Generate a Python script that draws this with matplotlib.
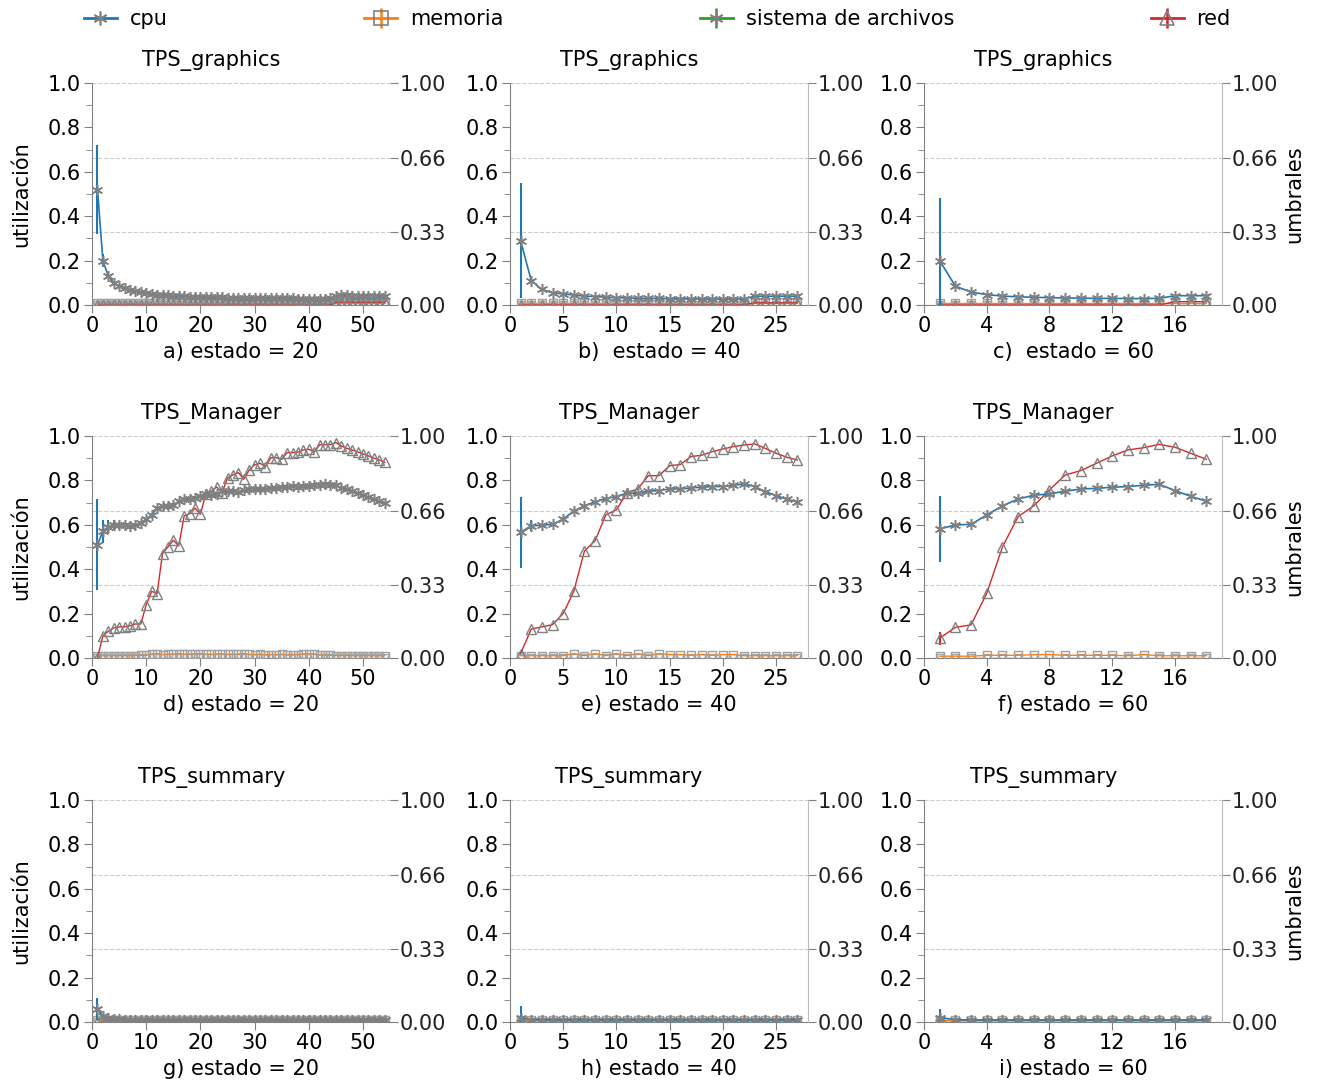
import numpy as np
import matplotlib
matplotlib.use("Agg")
import matplotlib.pyplot as plt
from matplotlib.lines import Line2D
from matplotlib.legend_handler import HandlerTuple

# ---------------------------------------------------------------
# data

labels = ["cpu", "memoria", "sistema de archivos", "red"]
umbrales = [0.0, 0.33, 0.66, 1.0]
estados = [20, 40, 60]
componentes = ["TPS_graphics", "TPS_Manager", "TPS_summary"]

# TPS_graphics
cpu_g20 = [0.52, 0.20, 0.13, 0.10, 0.085, 0.075, 0.068, 0.063, 0.058, 0.054,
           0.050, 0.047, 0.045, 0.043, 0.041, 0.040, 0.039, 0.038, 0.037, 0.036,
           0.035, 0.035, 0.034, 0.034, 0.033, 0.033, 0.032, 0.032, 0.032, 0.031,
           0.031, 0.031, 0.030, 0.030, 0.030, 0.030, 0.030, 0.029, 0.029, 0.029,
           0.029, 0.029, 0.029, 0.030, 0.042, 0.043, 0.043, 0.042, 0.042, 0.042,
           0.042, 0.041, 0.041, 0.041]
cpu_g20_err = [0.20, 0.03]
red_g20 = [0.0, 0.0, 0.0, 0.0, 0.0, 0.0, 0.0, 0.0, 0.0, 0.0,
           0.0, 0.0, 0.0, 0.0, 0.0, 0.0, 0.0, 0.0, 0.0, 0.0,
           0.0, 0.0, 0.0, 0.0, 0.0, 0.0, 0.0, 0.0, 0.0, 0.0,
           0.0, 0.0, 0.0, 0.0, 0.0, 0.0, 0.0, 0.0, 0.0, 0.0,
           0.0, 0.0, 0.0, 0.001, 0.012, 0.013, 0.013, 0.012, 0.012, 0.012,
           0.012, 0.012, 0.012, 0.012]
cpu_g40 = [0.29, 0.11, 0.07, 0.055, 0.050, 0.045, 0.040, 0.038, 0.035, 0.033,
           0.032, 0.030, 0.030, 0.030, 0.028, 0.028, 0.028, 0.027, 0.027, 0.027,
           0.027, 0.027, 0.040, 0.040, 0.040, 0.040, 0.040]
cpu_g40_err = [0.26]
red_g40 = [0.0, 0.0, 0.0, 0.0, 0.0, 0.0, 0.0, 0.0, 0.0, 0.0,
           0.0, 0.0, 0.0, 0.0, 0.0, 0.0, 0.0, 0.0, 0.0, 0.0,
           0.0, 0.001, 0.010, 0.010, 0.010, 0.010, 0.010]
cpu_g60 = [0.20, 0.085, 0.058, 0.047, 0.040, 0.037, 0.035, 0.033, 0.032, 0.031,
           0.030, 0.030, 0.029, 0.029, 0.030, 0.042, 0.042, 0.042]
cpu_g60_err = [0.28]
red_g60 = [0.0, 0.0, 0.0, 0.0, 0.0, 0.0, 0.0, 0.0, 0.0, 0.0,
           0.0, 0.0, 0.0, 0.0, 0.0, 0.015, 0.015, 0.015]

# TPS_Manager
cpu_m20 = [0.51, 0.57, 0.59, 0.60, 0.60, 0.60, 0.595, 0.60, 0.61, 0.625,
           0.645, 0.675, 0.685, 0.685, 0.69, 0.705, 0.715, 0.715, 0.72, 0.73,
           0.74, 0.735, 0.74, 0.75, 0.75, 0.75, 0.748, 0.755, 0.76, 0.763,
           0.76, 0.763, 0.765, 0.766, 0.77, 0.77, 0.773, 0.772, 0.774, 0.775,
           0.78, 0.781, 0.782, 0.781, 0.778, 0.767, 0.76, 0.75, 0.742, 0.733,
           0.724, 0.715, 0.707, 0.698]
cpu_m20_err = [0.205, 0.05, 0.03, 0.02]
red_m20 = [0.0, 0.10, 0.12, 0.135, 0.14, 0.14, 0.145, 0.153, 0.153, 0.24,
           0.30, 0.29, 0.47, 0.50, 0.53, 0.505, 0.64, 0.65, 0.675, 0.647,
           0.74, 0.752, 0.77, 0.745, 0.81, 0.825, 0.835, 0.805, 0.847, 0.87,
           0.877, 0.862, 0.902, 0.902, 0.895, 0.925, 0.925, 0.927, 0.937, 0.94,
           0.928, 0.96, 0.96, 0.961, 0.97, 0.955, 0.944, 0.937, 0.928, 0.919,
           0.91, 0.90, 0.892, 0.881]
mem_m20 = [0.010, 0.010, 0.010, 0.010, 0.010, 0.011, 0.010, 0.011, 0.012, 0.012,
           0.018, 0.020, 0.015, 0.016, 0.018, 0.020, 0.016, 0.018, 0.019, 0.020,
           0.017, 0.016, 0.018, 0.019, 0.016, 0.017, 0.018, 0.020, 0.016, 0.015,
           0.016, 0.014, 0.015, 0.014, 0.016, 0.013, 0.014, 0.015, 0.018, 0.019,
           0.018, 0.013, 0.012, 0.012, 0.011, 0.011, 0.011, 0.010, 0.010, 0.010,
           0.010, 0.010, 0.010, 0.010]
cpu_m40 = [0.566, 0.595, 0.598, 0.602, 0.625, 0.662, 0.685, 0.703, 0.718, 0.727,
           0.742, 0.742, 0.751, 0.754, 0.761, 0.761, 0.766, 0.769, 0.772, 0.772,
           0.778, 0.784, 0.772, 0.749, 0.731, 0.715, 0.703]
cpu_m40_err = [0.16, 0.025]
red_m40 = [0.02, 0.13, 0.14, 0.15, 0.20, 0.30, 0.482, 0.528, 0.644, 0.667,
           0.745, 0.761, 0.821, 0.821, 0.866, 0.871, 0.907, 0.913, 0.929, 0.941,
           0.952, 0.959, 0.964, 0.944, 0.922, 0.904, 0.892]
mem_m40 = [0.010, 0.010, 0.010, 0.010, 0.010, 0.020, 0.010, 0.020, 0.010, 0.020,
           0.010, 0.020, 0.010, 0.020, 0.015, 0.015, 0.012, 0.015, 0.012, 0.015,
           0.015, 0.010, 0.010, 0.010, 0.010, 0.010, 0.010]
cpu_m60 = [0.581, 0.599, 0.602, 0.644, 0.685, 0.716, 0.733, 0.739, 0.751, 0.761,
           0.764, 0.769, 0.772, 0.778, 0.782, 0.754, 0.728, 0.706]
cpu_m60_err = [0.15]
red_m60 = [0.089, 0.138, 0.149, 0.291, 0.50, 0.637, 0.685, 0.757, 0.824, 0.844,
           0.877, 0.91, 0.937, 0.947, 0.962, 0.949, 0.922, 0.895]
red_m60_err = [0.03]
mem_m60 = [0.008, 0.008, 0.008, 0.012, 0.012, 0.012, 0.015, 0.015, 0.012, 0.012,
           0.012, 0.012, 0.010, 0.015, 0.010, 0.010, 0.010, 0.010]

# TPS_summary
cpu_s20 = [0.06, 0.025, 0.016, 0.013, 0.012, 0.011, 0.011, 0.010, 0.010, 0.010,
           0.010, 0.010, 0.010, 0.010, 0.010, 0.010, 0.010, 0.010, 0.010, 0.010,
           0.010, 0.010, 0.010, 0.010, 0.010, 0.010, 0.010, 0.010, 0.010, 0.010,
           0.010, 0.010, 0.010, 0.010, 0.010, 0.010, 0.010, 0.010, 0.010, 0.010,
           0.010, 0.010, 0.010, 0.010, 0.010, 0.010, 0.010, 0.010, 0.010, 0.010,
           0.010, 0.010, 0.010, 0.010]
cpu_s20_err = [0.05]
cpu_s40 = [0.020, 0.010, 0.010, 0.009, 0.009, 0.009, 0.009, 0.009, 0.009, 0.009,
           0.009, 0.009, 0.009, 0.009, 0.009, 0.009, 0.009, 0.009, 0.009, 0.009,
           0.009, 0.009, 0.009, 0.009, 0.009, 0.009, 0.009]
cpu_s40_err = [0.05]
cpu_s60 = [0.020, 0.010, 0.009, 0.009, 0.009, 0.009, 0.009, 0.009, 0.009, 0.009,
           0.009, 0.009, 0.009, 0.009, 0.009, 0.009, 0.009, 0.009]
cpu_s60_err = [0.04]

# memoria / sistema de archivos stay almost flat near zero
mem_flat_54 = [0.010, 0.010, 0.010, 0.010, 0.010, 0.010, 0.010, 0.010, 0.010, 0.010,
               0.010, 0.010, 0.010, 0.010, 0.010, 0.010, 0.010, 0.010, 0.010, 0.010,
               0.010, 0.010, 0.010, 0.010, 0.010, 0.010, 0.010, 0.010, 0.010, 0.010,
               0.010, 0.010, 0.010, 0.010, 0.010, 0.010, 0.010, 0.010, 0.010, 0.010,
               0.010, 0.010, 0.010, 0.010, 0.010, 0.010, 0.010, 0.010, 0.010, 0.010,
               0.010, 0.010, 0.010, 0.010]
fs_flat_54 = [0.002, 0.002, 0.002, 0.002, 0.002, 0.002, 0.002, 0.002, 0.002, 0.002,
              0.002, 0.002, 0.002, 0.002, 0.002, 0.002, 0.002, 0.002, 0.002, 0.002,
              0.002, 0.002, 0.002, 0.002, 0.002, 0.002, 0.002, 0.002, 0.002, 0.002,
              0.002, 0.002, 0.002, 0.002, 0.002, 0.002, 0.002, 0.002, 0.002, 0.002,
              0.002, 0.002, 0.002, 0.002, 0.002, 0.002, 0.002, 0.002, 0.002, 0.002,
              0.002, 0.002, 0.002, 0.002]
red_flat_54 = [0.0, 0.0, 0.0, 0.0, 0.0, 0.0, 0.0, 0.0, 0.0, 0.0,
               0.0, 0.0, 0.0, 0.0, 0.0, 0.0, 0.0, 0.0, 0.0, 0.0,
               0.0, 0.0, 0.0, 0.0, 0.0, 0.0, 0.0, 0.0, 0.0, 0.0,
               0.0, 0.0, 0.0, 0.0, 0.0, 0.0, 0.0, 0.0, 0.0, 0.0,
               0.0, 0.0, 0.0, 0.0, 0.0, 0.0, 0.0, 0.0, 0.0, 0.0,
               0.0, 0.0, 0.0, 0.0]

# ---------------------------------------------------------------
# panels: (cpu, cpu_err, mem, fs, red, red_err)
panels = [
  [(cpu_g20, cpu_g20_err, mem_flat_54, fs_flat_54, red_g20, []),
   (cpu_g40, cpu_g40_err, mem_flat_54[:27], fs_flat_54[:27], red_g40, []),
   (cpu_g60, cpu_g60_err, mem_flat_54[:18], fs_flat_54[:18], red_g60, [])],
  [(cpu_m20, cpu_m20_err, mem_m20, fs_flat_54, red_m20, []),
   (cpu_m40, cpu_m40_err, mem_m40, fs_flat_54[:27], red_m40, []),
   (cpu_m60, cpu_m60_err, mem_m60, fs_flat_54[:18], red_m60, red_m60_err)],
  [(cpu_s20, cpu_s20_err, mem_flat_54, fs_flat_54, red_flat_54, []),
   (cpu_s40, cpu_s40_err, mem_flat_54[:27], fs_flat_54[:27], red_flat_54[:27], []),
   (cpu_s60, cpu_s60_err, mem_flat_54[:18], fs_flat_54[:18], red_flat_54[:18], [])],
]
xticks = [np.arange(0, 51, 10), np.arange(0, 26, 5), np.arange(0, 17, 4)]
xlabels = [["a) estado = 20", "b)  estado = 40", "c)  estado = 60"],
           ["d) estado = 20", "e) estado = 40", "f) estado = 60"],
           ["g) estado = 20", "h) estado = 40", "i) estado = 60"]]

c_cpu, c_mem, c_fs, c_red = "#1f77b4", "#ff7f0e", "#2ca02c", "#d62728"
asterisk = (6, 2, 0)

# ---------------------------------------------------------------
# figure
plt.rcParams['font.family'] = ['DejaVu Sans']
fig = plt.figure(figsize=(13.17, 10.82), dpi=100)

lefts = [0.0699, 0.3872, 0.7016]
bottoms = [0.7181, 0.3919, 0.0555]
width, height = 0.2263, 0.2052
fs = 15


def pad_err(err, n):
  e = np.zeros(n)
  e[:len(err)] = err
  return e


for r in range(3):
  for c in range(3):
    cpu, cpu_err, mem, fsys, red, red_err = panels[r][c]
    n = len(cpu)
    x = np.arange(1, n + 1)
    ax = fig.add_axes([lefts[c], bottoms[r], width, height])

    for u in umbrales:
      ax.axhline(u, ls='--', lw=0.8, color='#cccccc', zorder=0)

    ax.errorbar(x, fsys, color=c_fs, lw=1.0, marker='v', ms=6, mfc='white',
                mec='#a8a8a8', mew=1.0, zorder=2)
    ax.errorbar(x, mem, color=c_mem, lw=1.0, marker='s', ms=6, mfc='none',
                mec='#a0a0a0', mew=1.0, zorder=3)
    ax.errorbar(x, red, yerr=pad_err(red_err, n), color=c_red, ecolor=c_red, elinewidth=1.5,
                lw=1.0, marker='^', ms=7, mfc='none', mec='gray', mew=1.0, zorder=4)
    ax.errorbar(x, cpu, yerr=pad_err(cpu_err, n), color=c_cpu, ecolor=c_cpu, elinewidth=1.5,
                lw=1.2, marker=asterisk, ms=8, mfc='gray', mec='gray', mew=1.1, zorder=5)

    ax.set_xlim(0, n + 1)
    ax.set_ylim(0, 1)
    ax.set_xticks(xticks[c])
    ax.set_yticks([0, 0.2, 0.4, 0.6, 0.8, 1.0])
    ax.set_yticks(np.arange(0.1, 1.0, 0.2), minor=True)
    ax.yaxis.set_major_formatter(matplotlib.ticker.FormatStrFormatter('%.1f'))
    ax.tick_params(axis='both', which='major', labelsize=fs, length=6, color='gray', pad=2)
    ax.tick_params(axis='y', which='minor', length=4, color='gray')
    ax.spines['top'].set_visible(False)
    ax.spines['right'].set_visible(False)
    ax.spines['left'].set_color('gray')
    ax.spines['bottom'].set_color('gray')
    ax.set_title(componentes[r], fontsize=fs, pad=12, x=0.40)
    ax.set_xlabel(xlabels[r][c], fontsize=fs, labelpad=4)
    if c == 0:
      ax.set_ylabel("utilización", fontsize=fs, labelpad=12)

    ax2 = ax.twinx()
    ax2.set_ylim(0, 1)
    ax2.set_yticks(umbrales)
    ax2.yaxis.set_major_formatter(matplotlib.ticker.FormatStrFormatter('%.2f'))
    ax2.tick_params(axis='y', labelsize=fs, length=6, color='gray', pad=1, labelcolor='#222222')
    ax2.spines['top'].set_visible(False)
    ax2.spines['left'].set_visible(False)
    ax2.spines['bottom'].set_visible(False)
    if c == 0:
      ax2.spines['right'].set_visible(False)
    else:
      ax2.spines['right'].set_color('#bbbbbb')
    if c == 2:
      ax2.set_ylabel("umbrales", fontsize=fs, labelpad=4)

# ---------------------------------------------------------------
# legend
colors = [c_cpu, c_mem, c_fs, c_red]
markers = [asterisk, 's', asterisk, '^']
handles = []
for i in range(4):
  ln = Line2D([], [], color=colors[i], lw=2, marker=markers[i], ms=10,
              mfc='gray' if i in (0, 2) else 'none', mec='gray', mew=1.2)
  bar = Line2D([], [], color=colors[i], lw=0, marker='|', ms=15, mew=1.8)
  if i == 0:
    handles.append(ln)
  else:
    handles.append((bar, ln))
fig.legend(handles, labels, loc='upper left', bbox_to_anchor=(0.054, 1.003, 0.89, 0.0),
           mode='expand', ncol=4, frameon=False, fontsize=fs, handlelength=1.6,
           handletextpad=0.6, borderaxespad=0.2,
           handler_map={tuple: HandlerTuple(ndivide=1)})

fig.savefig("out.png", dpi=100)
